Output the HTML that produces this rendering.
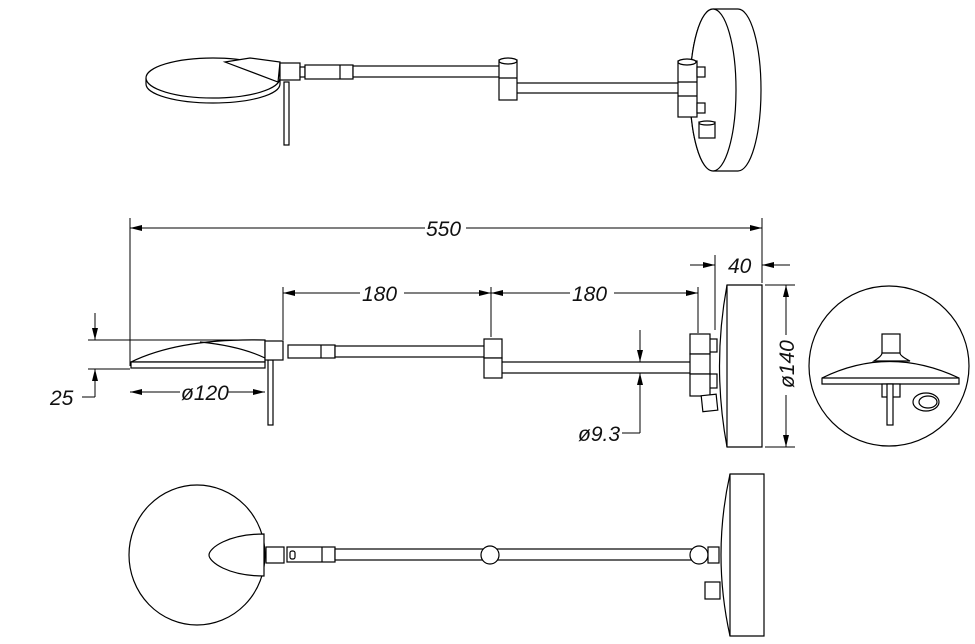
<!DOCTYPE html>
<html><head><meta charset="utf-8"><style>
html,body{margin:0;padding:0;background:#fff;}
svg{display:block;}
text{font-family:"Liberation Sans",sans-serif;font-size:21px;font-style:italic;fill:#111;}
</style></head><body>
<svg width="975" height="644" viewBox="0 0 975 644" xmlns="http://www.w3.org/2000/svg">
<defs>
<marker id="a" markerWidth="12" markerHeight="6" refX="12" refY="3" orient="auto" markerUnits="userSpaceOnUse"><path d="M0,0 L12,3 L0,6 z" fill="#000"/></marker>
</defs>
<g fill="#fff" stroke="#000" stroke-width="1.2">
<!-- TOP VIEW -->
<path d="M146,78 L146,84 A67,19 0 0 0 280,84 L280,78" />
<ellipse cx="213" cy="78" rx="67" ry="20"/>
<path d="M225,62 L250,58 L280,62 L278,82 Z"/>
<rect x="284" y="82" width="5" height="63"/>
<rect x="280" y="63" width="20" height="17"/>
<rect x="300" y="67" width="5" height="10"/>
<rect x="305" y="65" width="48" height="14"/>
<line x1="340" y1="65" x2="340" y2="79"/>
<rect x="353" y="66" width="147" height="11"/>
<rect x="515" y="83" width="165" height="10"/>
<rect x="499" y="60" width="18" height="40"/>
<ellipse cx="508" cy="61" rx="9" ry="3"/>
<line x1="499" y1="78" x2="517" y2="78"/>
<path d="M738,9 L713,9 A23,81 0 0 0 713,171 L738,171 A23,81 0 0 0 738,9 Z"/>
<ellipse cx="713" cy="90" rx="23" ry="81"/>
<rect x="678" y="61" width="19" height="56"/>
<ellipse cx="687" cy="62" rx="9" ry="3"/>
<line x1="678" y1="82" x2="697" y2="82"/>
<line x1="678" y1="96" x2="697" y2="96"/>
<rect x="697" y="67" width="8" height="10"/>
<rect x="697" y="103" width="8" height="10"/>
<rect x="699" y="122" width="16" height="16"/>
<ellipse cx="707" cy="123" rx="8" ry="2"/>

<!-- SIDE VIEW -->
<path d="M131,362 Q180,338 265,340 L265,362 Z"/>
<rect x="131" y="362" width="134" height="6"/>
<path d="M200,342 Q240,346 265,358" fill="none"/>
<rect x="268" y="360" width="5" height="65"/>
<rect x="265" y="341" width="18" height="19"/>
<rect x="288" y="345" width="47" height="13"/>
<line x1="321" y1="345" x2="321" y2="358"/>
<rect x="335" y="346" width="150" height="11"/>
<rect x="501" y="362" width="192" height="11"/>
<rect x="484" y="339" width="18" height="19"/>
<rect x="484" y="358" width="18" height="20"/>
<rect x="709" y="339" width="8" height="13"/>
<rect x="709" y="374" width="8" height="14"/>
<rect x="690" y="334" width="20" height="20"/>
<rect x="690" y="354" width="20" height="20"/>
<rect x="690" y="374" width="20" height="22"/>
<rect x="702" y="395" width="15" height="16" transform="rotate(-6 709 403)"/>
<path d="M727,285 L762,285 L762,447 L727,447 Q712,366 727,285 Z"/>
<line x1="727" y1="285" x2="727" y2="447"/>
<!-- detail circle -->
<circle cx="889" cy="366" r="80"/>
<rect x="882" y="334" width="18" height="21"/>
<path d="M874,361 Q882,356 882,353 L900,353 Q900,356 910,361 Z"/>
<path d="M822,378 Q889,345 959,378 L959,384 L822,384 Z"/>
<line x1="822" y1="378" x2="959" y2="378"/>
<rect x="882" y="384" width="18" height="13"/>
<rect x="887" y="384" width="6" height="41"/>
<ellipse cx="926" cy="402" rx="13" ry="9"/>
<ellipse cx="928" cy="402" rx="9" ry="6"/>

<!-- BOTTOM VIEW -->
<ellipse cx="197" cy="555" rx="68" ry="70"/>
<path d="M264,534 C228,534 209,548 209,555 C209,562 228,576 264,576 Z"/>
<rect x="266" y="547" width="18" height="16"/>
<rect x="287" y="547" width="48" height="15"/>
<line x1="322" y1="547" x2="322" y2="562"/>
<rect x="290" y="551" width="5" height="8" rx="2"/>
<rect x="335" y="549" width="360" height="11"/>
<ellipse cx="490" cy="555" rx="9" ry="9"/>
<ellipse cx="699" cy="555" rx="9" ry="9"/>
<rect x="708" y="547" width="11" height="16"/>
<rect x="705" y="582" width="15" height="17"/>
<path d="M730,474 L764,474 L764,636 L730,636 Q712,555 730,474 Z"/>
<line x1="730" y1="474" x2="730" y2="636"/>
</g>

<!-- DIMENSIONS -->
<g stroke="#000" stroke-width="1" fill="none">
<line x1="130" y1="218" x2="130" y2="366"/>
<line x1="762" y1="218" x2="762" y2="283"/>
<line x1="425" y1="228" x2="130" y2="228" marker-end="url(#a)"/>
<line x1="466" y1="228" x2="762" y2="228" marker-end="url(#a)"/>
<line x1="283" y1="287" x2="283" y2="340"/>
<line x1="491" y1="287" x2="491" y2="337"/>
<line x1="698" y1="287" x2="698" y2="333"/>
<line x1="360" y1="293" x2="283" y2="293" marker-end="url(#a)"/>
<line x1="404" y1="293" x2="491" y2="293" marker-end="url(#a)"/>
<line x1="570" y1="293" x2="491" y2="293" marker-end="url(#a)"/>
<line x1="614" y1="293" x2="698" y2="293" marker-end="url(#a)"/>
<line x1="715" y1="255" x2="715" y2="330"/>
<line x1="690" y1="265" x2="715" y2="265" marker-end="url(#a)"/>
<line x1="790" y1="265" x2="762" y2="265" marker-end="url(#a)"/>
<line x1="765" y1="285" x2="795" y2="285"/>
<line x1="765" y1="447" x2="795" y2="447"/>
<line x1="786" y1="335" x2="786" y2="285" marker-end="url(#a)"/>
<line x1="786" y1="395" x2="786" y2="447" marker-end="url(#a)"/>
<line x1="88" y1="340" x2="265" y2="340"/>
<line x1="88" y1="369" x2="130" y2="369"/>
<line x1="95" y1="313" x2="95" y2="340" marker-end="url(#a)"/>
<line x1="95" y1="397" x2="95" y2="369" marker-end="url(#a)"/>
<line x1="82" y1="397" x2="95" y2="397"/>
<line x1="180" y1="392" x2="130" y2="392" marker-end="url(#a)"/>
<line x1="228" y1="392" x2="265" y2="392" marker-end="url(#a)"/>
<line x1="640" y1="330" x2="640" y2="362" marker-end="url(#a)"/>
<line x1="640" y1="433" x2="640" y2="373" marker-end="url(#a)"/>
<line x1="622" y1="433" x2="640" y2="433"/>
</g>
<g>
<text x="426" y="236">550</text>
<text x="362" y="301">180</text>
<text x="572" y="301">180</text>
<text x="728" y="273">40</text>
<text x="50" y="405">25</text>
<text x="181" y="400">ø120</text>
<text x="578" y="441">ø9.3</text>
<text transform="translate(794,388) rotate(-90)">ø140</text>
</g>
</svg>
</body></html>
